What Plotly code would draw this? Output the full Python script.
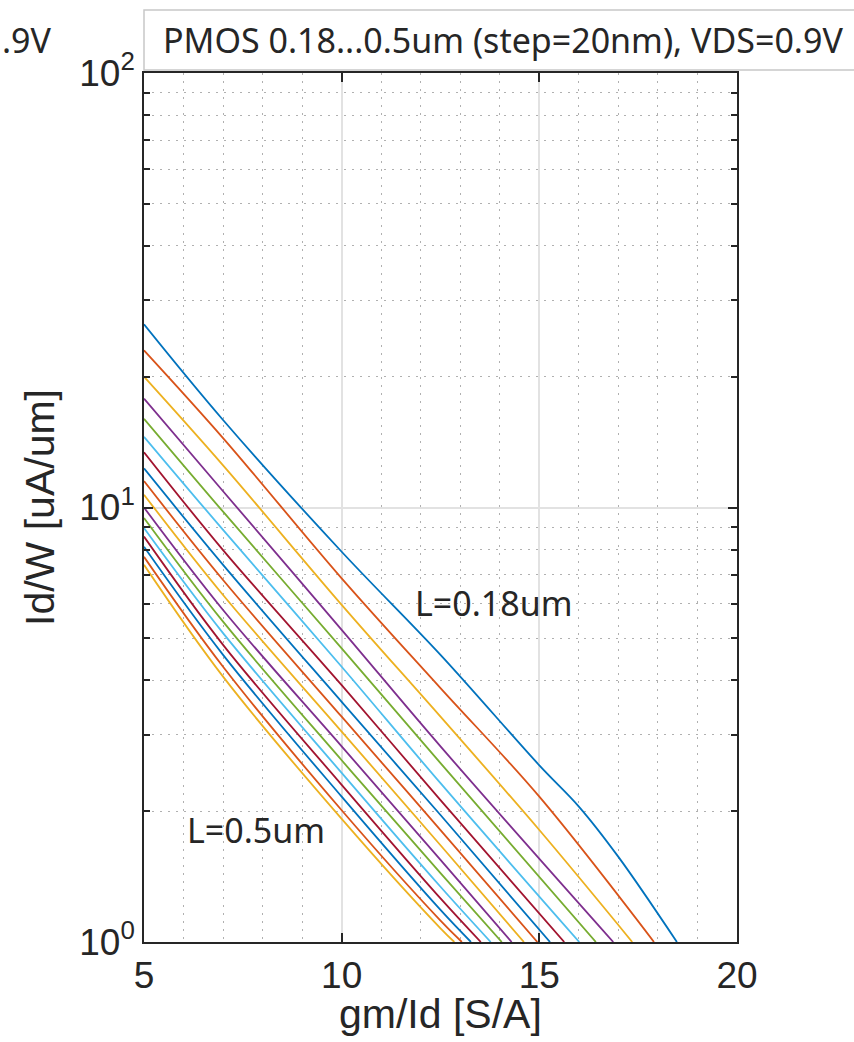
import plotly.graph_objects as go

# gm/Id [S/A] and Id/W [uA/um], one curve per channel length
lengths = ["0.18", "0.20", "0.22", "0.24", "0.26", "0.28", "0.30", "0.32", "0.34",
           "0.36", "0.38", "0.40", "0.42", "0.44", "0.46", "0.48", "0.50"]

gm_id = [
    [5, 7, 10, 12.5, 15, 16, 17, 18.48],
    [5, 7, 10, 12.5, 15, 17.9],
    [5, 7, 10, 12.5, 15, 17.35],
    [5, 7, 10, 12.5, 16.87],
    [5, 7, 10, 12.5, 16.43],
    [5, 7, 10, 12.5, 16.01],
    [5, 7, 10, 12.5, 15.63],
    [5, 7, 10, 12.5, 15.27],
    [5, 7, 10, 12.5, 14.95],
    [5, 7, 10, 12.5, 14.61],
    [5, 7, 10, 12.5, 14.30],
    [5, 7, 10, 12.5, 14.05],
    [5, 7, 10, 12.5, 13.77],
    [5, 7, 10, 12.5, 13.52],
    [5, 7, 10, 12.5, 13.27],
    [5, 7, 10, 12.5, 13.04],
    [5, 7, 10, 12.5, 12.85],
]

id_w = [
    [26.4, 15.9, 7.91, 4.58, 2.55, 2.05, 1.57, 1.0],
    [23.0, 14.45, 6.87, 3.84, 2.16, 1.0],
    [20.0, 12.5, 5.97, 3.30, 1.81, 1.0],
    [17.8, 10.9, 5.23, 2.82, 1.0],
    [16.0, 9.78, 4.74, 2.58, 1.0],
    [14.55, 8.88, 4.30, 2.32, 1.0],
    [13.4, 7.98, 3.90, 2.12, 1.0],
    [12.3, 7.38, 3.57, 1.96, 1.0],
    [11.5, 6.81, 3.30, 1.81, 1.0],
    [10.7, 6.29, 3.05, 1.67, 1.0],
    [10.0, 5.81, 2.82, 1.545, 1.0],
    [9.46, 5.46, 2.62, 1.44, 1.0],
    [8.97, 5.14, 2.45, 1.34, 1.0],
    [8.57, 4.83, 2.30, 1.26, 1.0],
    [8.12, 4.58, 2.16, 1.185, 1.0],
    [7.70, 4.30, 2.01, 1.12, 1.0],
    [7.38, 4.08, 1.92, 1.075, 1.0],
]

x_ticks = [5, 10, 15, 20]
y_ticks = [1, 10, 100]
y_ticktext = ["10<sup>0</sup>", "10<sup>1</sup>", "10<sup>2</sup>"]

# matlab default colour order
matlab_colors = ["#0072BD", "#D95319", "#EDB120", "#7E2F8E", "#77AC30", "#4DBEEE", "#A2142F"]

fig = go.Figure()
for i, L in enumerate(lengths):
    fig.add_trace(go.Scatter(
        x=gm_id[i], y=id_w[i], mode="lines", name="L=" + L + "um",
        line=dict(color=matlab_colors[i % 7], width=1.8, shape="spline", smoothing=1.0),
        showlegend=False))

tick_font = dict(family="Liberation Sans, Arial", size=37, color="#262626")
title_font = dict(family="Liberation Sans, Arial", size=41, color="#262626")
label_font = dict(family="Noto Sans", size=34, color="#262626")

fig.update_layout(
    width=854, height=1042,
    margin=dict(l=144, r=117, t=73, b=100),
    paper_bgcolor="white", plot_bgcolor="white",
    xaxis=dict(
        range=[5, 20], tickvals=x_ticks, ticks="inside", ticklen=9, tickwidth=1.5, automargin=False,
        tickcolor="#262626", mirror="allticks", showline=True, linecolor="#262626", linewidth=1.6,
        showgrid=True, gridcolor="#e2e2e2", gridwidth=1.5, zeroline=False,
        tickfont=tick_font,
        minor=dict(dtick=1, tick0=5, showgrid=True, gridcolor="#b0b0b0", griddash="2px,6px", gridwidth=1),
    ),
    yaxis=dict(
        type="log", range=[0, 2], tickvals=y_ticks, ticktext=y_ticktext, ticks="inside", ticklen=9,
        tickwidth=1.5, tickcolor="#262626", mirror="allticks", showline=True, linecolor="#262626",
        linewidth=1.6, showgrid=True, gridcolor="#e2e2e2", gridwidth=1.5, zeroline=False,
        automargin=False, tickfont=tick_font,
        minor=dict(dtick="D1", ticks="inside", ticklen=6, tickcolor="#262626", showgrid=True,
                   gridcolor="#b0b0b0", griddash="2px,6px", gridwidth=1),
        title=dict(text="Id/W [uA/um]", font=title_font, standoff=12),
    ),
    shapes=[dict(type="rect", xref="paper", yref="paper", x0=0, x1=1.21, y0=1.0035, y1=1.0725,
                 line=dict(color="#c8c8c8", width=1.5), fillcolor="white", layer="above")],
    annotations=[
        dict(text="PMOS 0.18...0.5um (step=20nm), VDS=0.9V", xref="paper", yref="paper",
             x=0.028, y=1.038, xanchor="left", yanchor="middle", showarrow=False, font=label_font),
        dict(text=".9V", xref="paper", yref="paper", x=-0.2428, y=1.038, xanchor="left",
             yanchor="middle", showarrow=False, font=label_font),
        dict(text="L=0.18um", xref="x", yref="y", x=13.85, y=0.780, showarrow=False, font=label_font),
        dict(text="L=0.5um", xref="x", yref="y", x=7.83, y=0.258, showarrow=False, font=label_font),
        # x title as an annotation so it sits as close to the tick labels as in the reference
        dict(text="gm/Id [S/A]", xref="paper", yref="paper", x=0.5, y=-0.083, xanchor="center",
             yanchor="middle", showarrow=False, font=title_font),
    ],
)

fig.write_html("out.html", config={"displayModeBar": False},
               post_script="document.body.style.margin='0';")
